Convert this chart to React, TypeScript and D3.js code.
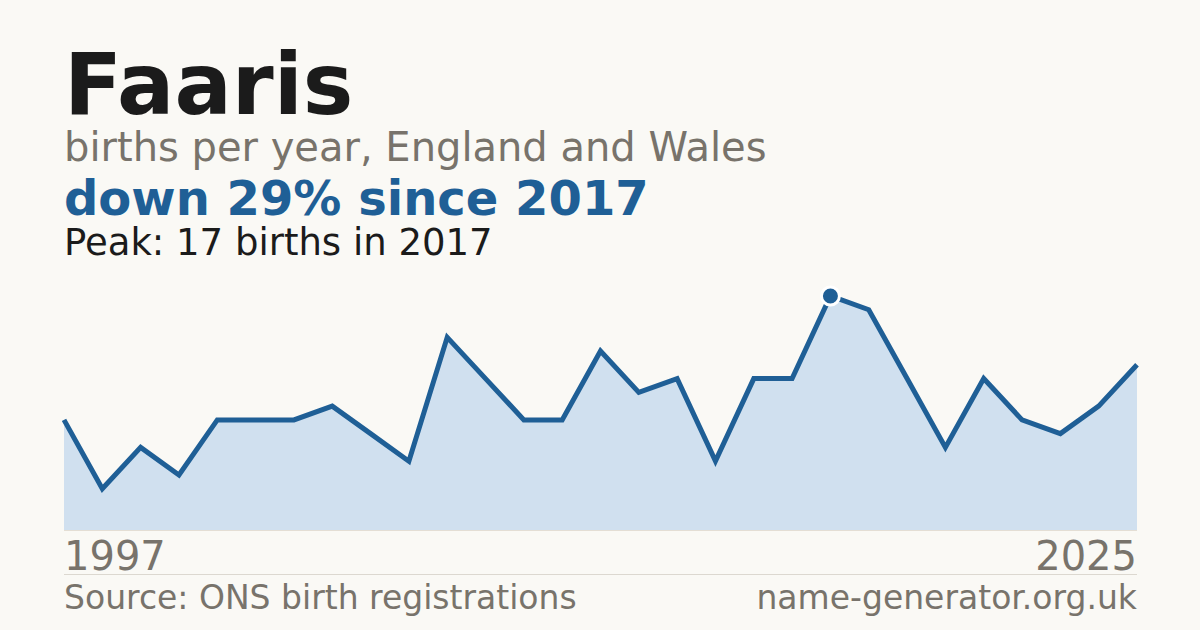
import React, { useEffect, useRef } from 'react';
import * as d3 from 'd3';

const years = d3.range(1997, 2026);
const births = [8, 3, 6, 4, 8, 8, 8, 9, 7, 5, 14, 11, 8, 8, 13, 10, 11, 5, 11, 11, 17, 16, 11, 6, 11, 8, 7, 9, 12];
const peakYear = 2017;
const peakValue = 17;

const FONT = 'DejaVu Sans, sans-serif';

const App = () => {
  const svgRef = useRef(null);

  useEffect(() => {
    const width = 1200;
    const height = 630;
    const left = 64;
    const right = 1137;
    const base = 530;
    const top = 296;

    d3.select(svgRef.current).selectAll('*').remove();

    const svg = d3.select(svgRef.current)
      .attr('width', width)
      .attr('height', height)
      .style('display', 'block');

    svg.append('rect')
      .attr('width', width)
      .attr('height', height)
      .attr('fill', '#faf9f5');

    // Header texts
    svg.append('text')
      .attr('x', left).attr('y', 114)
      .attr('font-family', FONT).attr('font-weight', 'bold')
      .attr('font-size', 85).attr('fill', '#1b1b1b')
      .text('Faaris');

    svg.append('text')
      .attr('x', left).attr('y', 161)
      .attr('font-family', FONT).attr('font-size', 40)
      .attr('fill', '#78736b')
      .text('births per year, England and Wales');

    svg.append('text')
      .attr('x', left).attr('y', 215)
      .attr('font-family', FONT).attr('font-weight', 'bold')
      .attr('font-size', 48).attr('fill', '#1f5f96')
      .text('down 29% since 2017');

    svg.append('text')
      .attr('x', left).attr('y', 255)
      .attr('font-family', FONT).attr('font-size', 37)
      .attr('fill', '#1b1b1b')
      .text(`Peak: ${peakValue} births in ${peakYear}`);

    // Scales
    const x = d3.scaleLinear().domain([years[0], years[years.length - 1]]).range([left, right]);
    const y = d3.scaleLinear().domain([0, peakValue]).range([base, top]);

    const data = years.map((yr, i) => ({ yr, v: births[i] }));

    const area = d3.area<{ yr: number; v: number }>()
      .x(d => x(d.yr))
      .y0(base)
      .y1(d => y(d.v));

    const line = d3.line<{ yr: number; v: number }>()
      .x(d => x(d.yr))
      .y(d => y(d.v));

    svg.append('path')
      .datum(data)
      .attr('d', area)
      .attr('fill', '#d0e0ef');

    svg.append('line')
      .attr('x1', left).attr('x2', right)
      .attr('y1', base + 0.5).attr('y2', base + 0.5)
      .attr('stroke', '#e4ded4').attr('stroke-width', 1);

    svg.append('path')
      .datum(data)
      .attr('d', line)
      .attr('fill', 'none')
      .attr('stroke', '#1f5f96')
      .attr('stroke-width', 5)
      .attr('stroke-linejoin', 'miter');

    // Peak marker
    svg.append('circle')
      .attr('cx', x(peakYear))
      .attr('cy', y(peakValue))
      .attr('r', 9)
      .attr('fill', '#1f5f96')
      .attr('stroke', '#ffffff')
      .attr('stroke-width', 3);

    // Year labels
    svg.append('text')
      .attr('x', left).attr('y', 570)
      .attr('font-family', FONT).attr('font-size', 40)
      .attr('fill', '#78736b')
      .text(String(years[0]));

    svg.append('text')
      .attr('x', right).attr('y', 570)
      .attr('text-anchor', 'end')
      .attr('font-family', FONT).attr('font-size', 40)
      .attr('fill', '#78736b')
      .text(String(years[years.length - 1]));

    svg.append('line')
      .attr('x1', left).attr('x2', right)
      .attr('y1', 574.5).attr('y2', 574.5)
      .attr('stroke', '#dcd8d0').attr('stroke-width', 1);

    // Footer
    svg.append('text')
      .attr('x', left).attr('y', 609)
      .attr('font-family', FONT).attr('font-size', 33)
      .attr('fill', '#78736b')
      .text('Source: ONS birth registrations');

    svg.append('text')
      .attr('x', right).attr('y', 609)
      .attr('text-anchor', 'end')
      .attr('font-family', FONT).attr('font-size', 33)
      .attr('fill', '#78736b')
      .text('name-generator.org.uk');
  }, []);

  return (
    <div style={{ position: 'absolute', left: 0, top: 0 }}>
      <svg ref={svgRef}></svg>
    </div>
  );
};

export default App;
